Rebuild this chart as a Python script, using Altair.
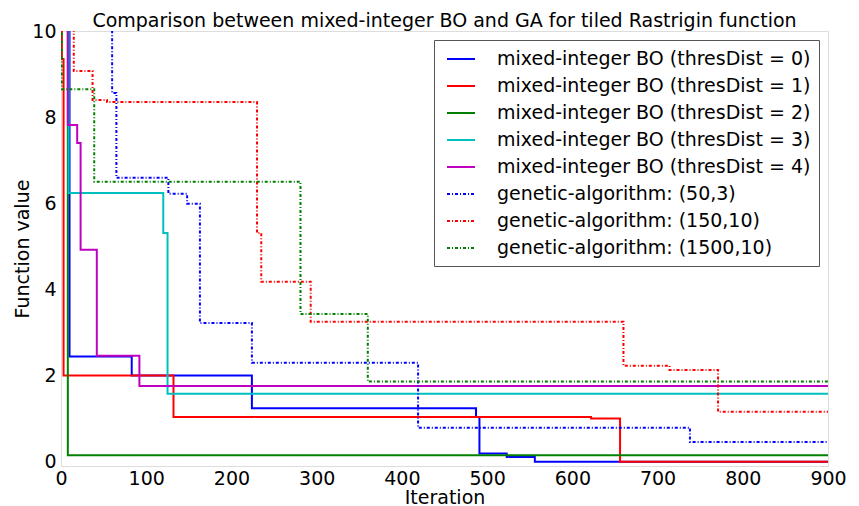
import altair as alt
import pandas as pd

series_names = [
    "mixed-integer BO (thresDist = 0)",
    "mixed-integer BO (thresDist = 1)",
    "mixed-integer BO (thresDist = 2)",
    "mixed-integer BO (thresDist = 3)",
    "mixed-integer BO (thresDist = 4)",
    "genetic-algorithm: (50,3)",
    "genetic-algorithm: (150,10)",
    "genetic-algorithm: (1500,10)",
]
series_colors = ["#0000ff", "#ff0000", "#008000", "#00bfbf", "#bf00bf",
                 "#0000ff", "#ff0000", "#008000"]
series_dashes = [[1, 0], [1, 0], [1, 0], [1, 0], [1, 0],
                 [3, 2, 1, 2], [3, 2, 1, 2], [3, 2, 1, 2]]

# step-after change points (iteration, best function value); 10.5 = above the plotted range
bo0_x = [0, 10, 83, 224, 487, 491, 523, 556, 900]
bo0_y = [10.5, 2.44, 2.0, 1.24, 1.04, 0.19, 0.11, 0.0, 0.0]
bo1_x = [0, 1, 3, 132, 622, 656, 900]
bo1_y = [10.5, 9.35, 2.0, 1.04, 1.0, 0.0, 0.0]
bo2_x = [0, 8, 900]
bo2_y = [10.5, 0.15, 0.15]
bo3_x = [0, 9, 120, 125, 900]
bo3_y = [10.5, 6.24, 5.31, 1.58, 1.58]
bo4_x = [0, 8, 19, 23, 42, 92, 900]
bo4_y = [10.5, 7.82, 7.40, 4.92, 2.46, 1.76, 1.76]
ga1_x = [0, 60, 65, 126, 148, 163, 224, 419, 738, 900]
ga1_y = [10.5, 8.56, 6.59, 6.22, 5.99, 3.22, 2.30, 0.79, 0.46, 0.46]
ga2_x = [0, 15, 37, 54, 230, 235, 293, 660, 714, 771, 900]
ga2_y = [10.5, 9.07, 8.40, 8.35, 5.31, 4.18, 3.25, 2.23, 2.13, 1.16, 1.16]
ga3_x = [0, 1, 39, 281, 360, 900]
ga3_y = [10.5, 8.65, 6.50, 3.43, 1.86, 1.86]

all_x = [bo0_x, bo1_x, bo2_x, bo3_x, bo4_x, ga1_x, ga2_x, ga3_x]
all_y = [bo0_y, bo1_y, bo2_y, bo3_y, bo4_y, ga1_y, ga2_y, ga3_y]

x_ticks = [0, 100, 200, 300, 400, 500, 600, 700, 800, 900]
y_ticks = [0, 2, 4, 6, 8, 10]

rows = []
for name, xs, ys in zip(series_names, all_x, all_y):
    for i, (xv, yv) in enumerate(zip(xs, ys)):
        rows.append({"series": name, "iter": xv, "val": yv, "order": i})
df = pd.DataFrame(rows)

FONT = "DejaVu Sans"

color_enc = alt.Color(
    "series:N",
    scale=alt.Scale(domain=series_names, range=series_colors),
    legend=alt.Legend(
        title=None, orient="top-right", offset=9,
        symbolType="M-0.6,0H2.2", symbolSize=400, symbolStrokeWidth=2,
        labelFont=FONT, labelFontSize=19, labelColor="black", labelLimit=0,
        labelOffset=33, padding=8, rowPadding=6,
        strokeColor="#555555", fillColor="white",
    ),
)
dash_enc = alt.StrokeDash(
    "series:N",
    scale=alt.Scale(domain=series_names, range=series_dashes),
    legend=alt.Legend(title=None),
)

base = alt.Chart(df).mark_line(interpolate="step-after", clip=True, strokeWidth=2).encode(
    x=alt.X("iter:Q", scale=alt.Scale(domain=[0, 900], nice=False),
            axis=alt.Axis(values=x_ticks, title="Iteration", grid=False, ticks=False,
                          domain=False, labelFlush=False, labelFont=FONT, labelFontSize=19,
                          labelColor="black", labelPadding=3, titleFont=FONT, titleFontSize=19,
                          titleFontWeight="normal", titleColor="black", titlePadding=0)),
    y=alt.Y("val:Q", scale=alt.Scale(domain=[-0.1, 10], nice=False, zero=False),
            axis=alt.Axis(values=y_ticks, title="Function value", grid=False, ticks=False,
                          domain=False, labelFlush=False, labelFont=FONT, labelFontSize=19,
                          labelColor="black", labelPadding=5, titleFont=FONT, titleFontSize=19,
                          titleFontWeight="normal", titleColor="black", titlePadding=-1)),
    color=color_enc,
    strokeDash=dash_enc,
    order="order:Q",
)

layers = [base.transform_filter(alt.datum.series == s) for s in series_names]

chart = alt.layer(*layers).properties(
    width=767, height=435,
    title=alt.TitleParams(
        "Comparison between mixed-integer BO and GA for tiled Rastrigin function",
        font=FONT, fontSize=19, fontWeight="normal", color="black", offset=2, dy=11,
        anchor="middle"),
    autosize=alt.AutoSizeParams(type="none"),
    padding={"left": 53, "top": 23, "right": 23, "bottom": 40},
).configure_view(stroke="#808080", strokeWidth=1.5).configure(background="white")

chart.save("out.html", embed_options={"renderer": "svg", "actions": False})
